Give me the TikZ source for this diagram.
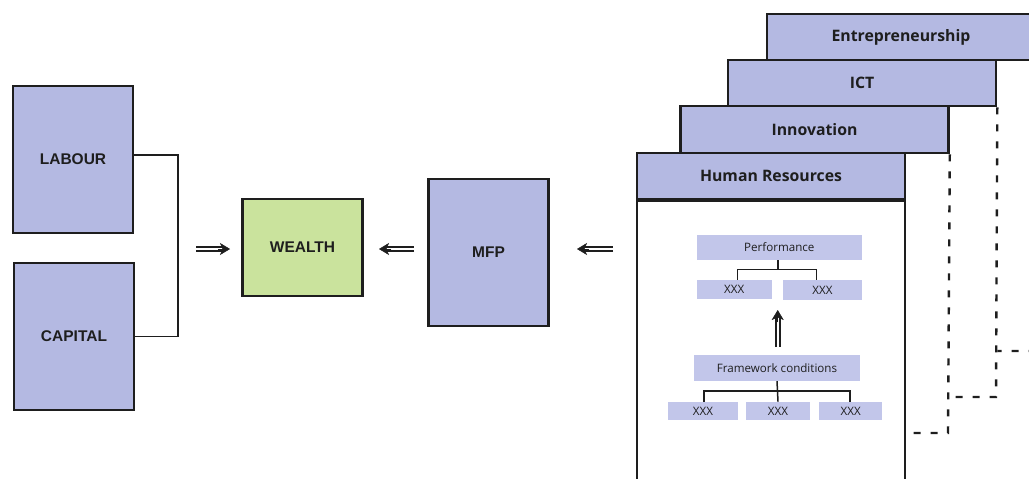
\documentclass[tikz,border=0pt]{standalone}
\usepackage{fontspec}
\setmainfont{Liberation Sans}
\newfontfamily\humanist{Open Sans}
\usetikzlibrary{arrows.meta,calc}
\definecolor{boxblue}{RGB}{180,185,226}
\definecolor{paleblue}{RGB}{194,198,234}
\definecolor{wealthgreen}{RGB}{202,227,157}
\definecolor{ink}{RGB}{30,30,30}
\begin{document}
\begin{tikzpicture}[x=1pt,y=-1pt,
  factor/.style={draw=ink, line width=2.6pt, fill=boxblue, minimum width=120pt,
    minimum height=147pt, inner sep=0pt, text=ink, font=\bfseries\fontsize{15.5}{18}\selectfont},
  tab/.style={draw=ink, line width=2.6pt, fill=boxblue, minimum width=268pt,
    minimum height=46pt, inner sep=0pt, text=ink, font=\humanist\bfseries\fontsize{15.8}{18}\selectfont},
  sheet/.style={draw=ink, line width=2.6pt, fill=white, minimum width=268pt,
    minimum height=300pt, inner sep=0pt},
  mini/.style={fill=paleblue, inner sep=0pt, text=ink, font=\humanist\fontsize{11.6}{13}\selectfont},
  bracket/.style={draw=ink, line width=1.9pt},
  minibracket/.style={draw=ink, line width=1.5pt},
  fold/.style={draw=ink, line width=2.4pt, dash pattern=on 7pt off 10pt},
  shaft/.style={draw=ink, double, double distance=2.2pt, line width=2.1pt, shorten >=7pt},
  head/.style={draw=ink, fill=ink, line width=0.5pt, -{Stealth[length=10pt,width=12pt,inset=2.5pt]}},
]
\useasboundingbox (0,0) rectangle (1029,479);

% production factors and their result
\node[factor] (labour) at (73,159.5) {LABOUR};
\node[factor] (capital) at (74,336.5) {CAPITAL};
\node[factor, minimum height=97pt, fill=wealthgreen] (wealth) at (302.5,247.5) {WEALTH};
\node[factor] (mfp) at (488.5,252.5) {MFP};

\draw[bracket] ([yshift=4.5pt]labour.east) -| (178,300) |- (capital.east);

% stacked sheets of the MFP drivers
\node[tab] (entre) at (901,37) {Entrepreneurship};
\node[tab] (ict) at (862,83) {ICT};
\node[tab, minimum height=47pt] (innov) at (814.5,129.5) {Innovation};
\node[sheet, anchor=north] (hrbody) at (771,199) {};
\node[tab] (hr) at (771,176) {Human Resources};

% folded-back edges of the hidden sheets
\draw[fold] (entre.south east) -- (1035,351) -- (ict.east |- 0,351);
\draw[fold] (ict.south east) -- (996,397) -- (innov.east |- 0,397);
\draw[fold] (innov.south east) -- (948,433) -- (hrbody.east |- 0,433);

% content of the front sheet
\node[mini, minimum width=165pt, minimum height=25pt] (perf) at (779.3,247.5) {Performance};
\node[mini, minimum width=75pt, minimum height=19.5pt] (pa) at (734.2,289.6) {XXX};
\node[mini, minimum width=79pt, minimum height=20pt] (pb) at (822.5,290) {XXX};
\node[mini, minimum width=166pt, minimum height=26pt] (fw) at (777,368) {Framework conditions};
\node[mini, minimum width=69.4pt, minimum height=18.3pt] (fa) at (703,411) {XXX};
\node[mini, minimum width=64pt, minimum height=18.3pt] (fb) at (778,411) {XXX};
\node[mini, minimum width=63.3pt, minimum height=18.3pt] (fc) at (850.7,411) {XXX};

\draw[minibracket] ([xshift=-1.5pt]perf.south) -- ++(0,10);
\draw[minibracket] ([xshift=3.5pt]pa.north) -- ++(0,-10) -| ([xshift=-6pt]pb.north);
\draw[minibracket] (fw.south) -- (fb.north);
\draw[minibracket] ([xshift=1pt]fa.north) -- ++(0,-10.5) -| ([xshift=-0.7pt]fc.north);

% double arrows between the stages
\coordinate (a1s) at (196,249); \coordinate (a1e) at (230,249);
\coordinate (a2s) at (414,249); \coordinate (a2e) at (379,249);
\coordinate (a3s) at (613,249); \coordinate (a3e) at (577,249);
\coordinate (upS) at (777.7,347); \coordinate (upE) at (777.7,310);
\foreach \s/\e in {a1s/a1e, a2s/a2e, a3s/a3e, upS/upE}{
  \draw[shaft] (\s) -- (\e);
  \draw[head] ($(\e)!12pt!(\s)$) -- (\e);
}
\end{tikzpicture}
\end{document}
